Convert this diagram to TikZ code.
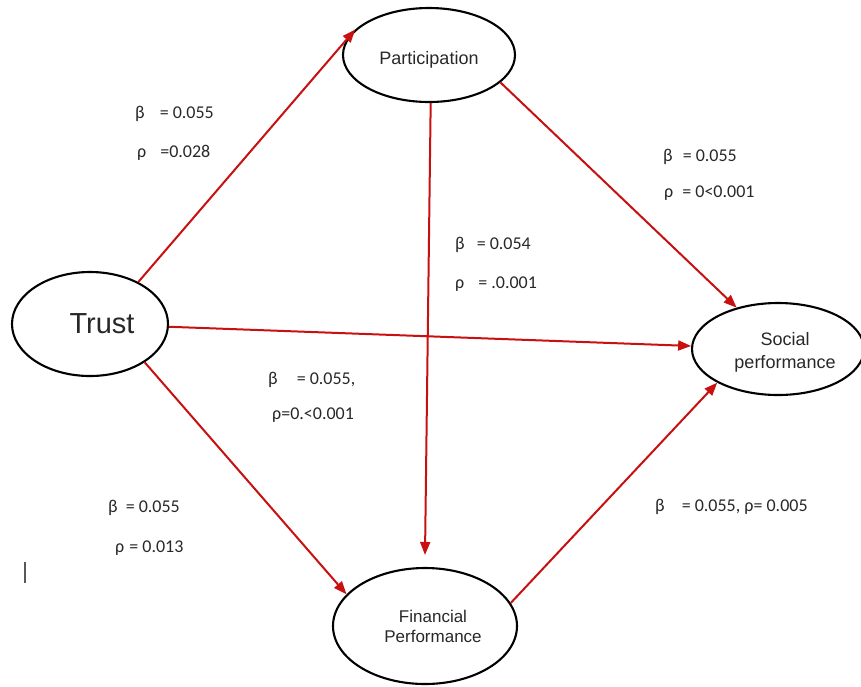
\documentclass[tikz,border=0pt]{standalone}
\usepackage{fontspec}
\setmainfont{Liberation Sans}
\newfontfamily\lblfont{Carlito}
\usetikzlibrary{shapes.geometric,arrows.meta}
\definecolor{arrowred}{RGB}{200,16,16}
\definecolor{txtgray}{RGB}{40,40,40}
\begin{document}
\begin{tikzpicture}[x=1pt,y=-1pt,
  concept/.style={ellipse,draw=black,line width=2.1pt,inner sep=0pt,text=txtgray,align=center},
  relpath/.style={draw=arrowred,line width=2pt,-{Triangle[length=13pt,width=10pt]}},
  stat/.style={anchor=base west,inner sep=0pt,font=\lblfont\fontsize{18}{20}\selectfont,text=txtgray}]
\useasboundingbox (0,0) rectangle (861,686);

% concepts
\node[concept,minimum width=172pt,minimum height=94pt,font=\fontsize{18}{21}\selectfont] (part) at (429,55) {\raisebox{-9.5pt}[0pt][0pt]{Participation}};
\node[concept,minimum width=156pt,minimum height=104pt,font=\fontsize{29}{32}\selectfont] (trust) at (90,324) {\hspace*{24pt}Trust};
\node[concept,minimum width=172pt,minimum height=92pt,font=\fontsize{18}{23}\selectfont] (soc) at (778,349) {\hspace*{14pt}\rule{0pt}{19pt}Social\\\hspace*{14pt}performance};
\node[concept,minimum width=184pt,minimum height=116pt,font=\fontsize{17}{20}\selectfont] (fin) at (425,626) {\hspace*{16pt}Financial\\\hspace*{16pt}Performance};

% paths
\draw[relpath] (trust.41.7) -- (part.161.8);
\draw[relpath] (part.-21) -- (soc.135);
\draw[relpath] (part.-88) -- ([yshift=12pt]fin.90.5);
\draw[relpath] (trust.-2) -- (soc.178);
\draw[relpath] (trust.-35) -- (fin.158.9);
\draw[relpath] (fin.15.7) -- (soc.209.7);

% statistics
\node[stat] (s1a) at (135,118) {β\hspace{15pt}= 0.055};
\node[stat] (s1b) at (137,157) {ρ\hspace{14pt}=0.028};
\node[stat] (s2a) at (663,161) {β\hspace{10pt}= 0.055};
\node[stat] (s2b) at (664,197) {ρ\hspace{9pt}= 0<0.001};
\node[stat] (s3a) at (455,249) {β\hspace{12pt}= 0.054};
\node[stat] (s3b) at (455,288) {ρ\hspace{14pt}= .0.001};
\node[stat] (s4a) at (268,384) {β\hspace{19pt}= 0.055,};
\node[stat] (s4b) at (272,419) {ρ=0.<0.001};
\node[stat] (s5a) at (108,512) {β\hspace{8pt}= 0.055};
\node[stat] (s5b) at (115,552) {ρ\hspace{5pt}= 0.013};
\node[stat] (s6) at (655,511) {β\hspace{17pt}= 0.055, ρ= 0.005};

% stray cursor mark
\draw[gray!70!black,line width=1.5pt] (25,562) -- (25,583);
\end{tikzpicture}
\end{document}
